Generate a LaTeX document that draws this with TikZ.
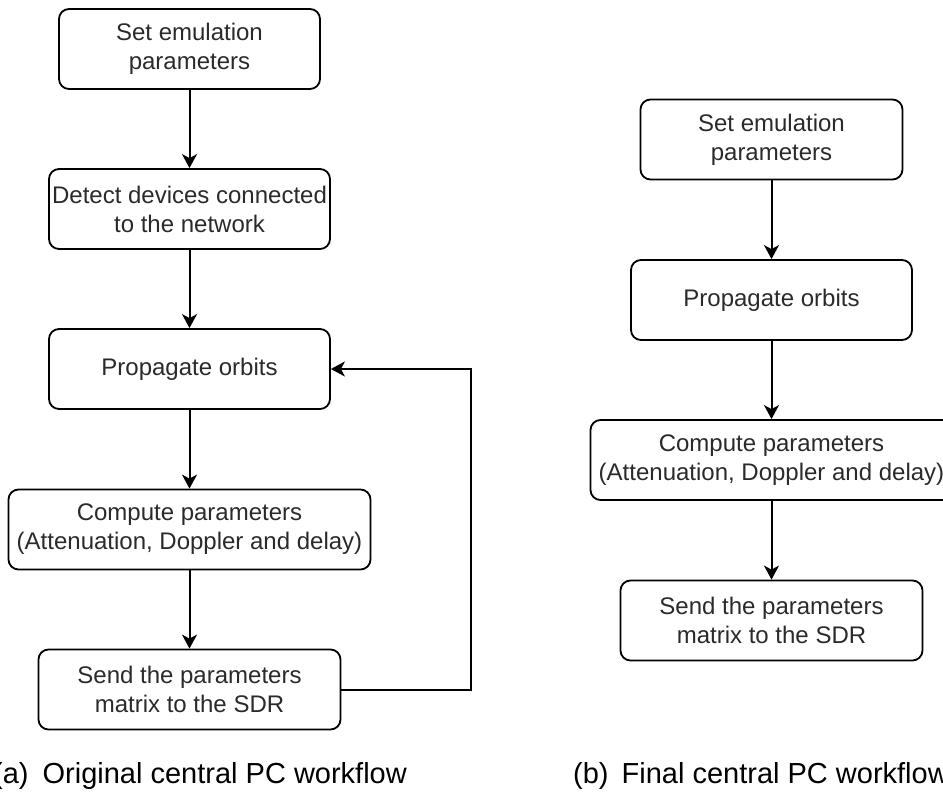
\documentclass[tikz,border=0pt]{standalone}
\usepackage{fontspec}
\setmainfont{Liberation Sans}
\usetikzlibrary{arrows.meta}
\definecolor{txt}{HTML}{2A2A2A}
\tikzset{
  box/.style={draw=black, line width=1.8pt, rounded corners=10pt, minimum height=80pt,
    inner sep=0pt, align=center, text=txt, font=\fontsize{24}{29}\selectfont},
  flow/.style={draw=black, line width=2pt, -{Stealth[length=14pt,width=15pt,inset=4pt]}},
  captext/.style={anchor=base west, inner sep=0pt, font=\fontsize{29}{34}\selectfont, text=black}
}
\begin{document}
\begin{tikzpicture}[x=1pt,y=-1pt]
\useasboundingbox (0,0) rectangle (943,793);
% left workflow
\node[box, minimum width=261pt] (a1) at (189.5,49) {Set emulation\\parameters};
\node[box, minimum width=281pt] (a2) at (189.5,209) {Detect devices connected\\to the network};
\node[box, minimum width=281pt] (a3) at (189.5,369) {Propagate orbits};
\node[box, minimum width=362pt] (a4) at (189.5,529.5) {Compute parameters\\(Attenuation, Doppler and delay)};
\node[box, minimum width=302pt] (a5) at (189.5,689.5) {Send the parameters\\matrix to the SDR};
\coordinate (fb1) at (470.7,689.5);
\coordinate (fb2) at (470.7,369);
\draw[flow] (a1) -- (a2);
\draw[flow] (a2) -- (a3);
\draw[flow] (a3) -- (a4);
\draw[flow] (a4) -- (a5);
\draw[flow] (a5.east) -- (fb1) -- (fb2) -- (a3.east);
\node[captext] (capa) at (-7,783) {(a)\hspace{14pt}Original central PC workflow};
% right workflow
\node[box, minimum width=262pt] (b1) at (771.5,139.5) {Set emulation\\parameters};
\node[box, minimum width=281pt] (b2) at (771.5,300) {Propagate orbits};
\node[box, minimum width=362pt] (b3) at (771.5,460) {Compute parameters\\(Attenuation, Doppler and delay)};
\node[box, minimum width=302pt] (b4) at (771.5,620.5) {Send the parameters\\matrix to the SDR};
\draw[flow] (b1) -- (b2);
\draw[flow] (b2) -- (b3);
\draw[flow] (b3) -- (b4);
\node[captext] (capb) at (573,783) {(b)\hspace{13pt}Final central PC workflow};
\end{tikzpicture}
\end{document}
